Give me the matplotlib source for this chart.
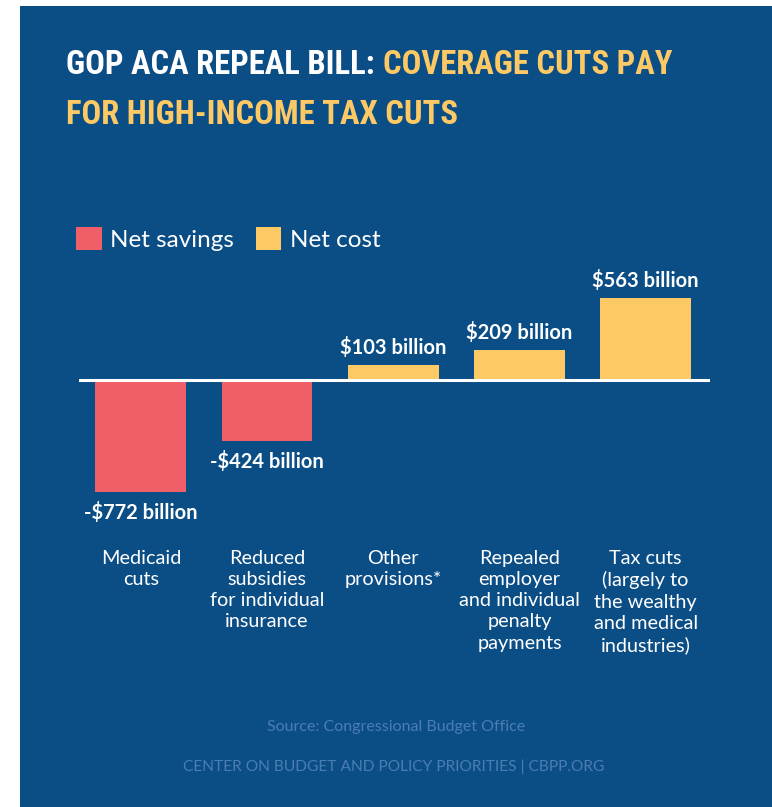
import numpy as np
import matplotlib
matplotlib.use('Agg')
import matplotlib.pyplot as plt
from matplotlib import font_manager
from matplotlib.patches import Rectangle, Patch

# ---------- data ----------
categories = ['Medicaid\ncuts',
              'Reduced\nsubsidies\nfor individual\ninsurance',
              'Other\nprovisions*',
              'Repealed\nemployer\nand individual\npenalty\npayments',
              'Tax cuts\n(largely to\nthe wealthy\nand medical\nindustries)']
values = [-772, -424, 103, 209, 563]
value_labels = ['-$772 billion', '-$424 billion', '$103 billion', '$209 billion', '$563 billion']

BLUE = '#0b4e86'
RED = '#f05f68'
YELLOW = '#fdc964'
FOOT = '#4a7db2'
W, H = 772, 807


def pick(*cands):
    names = {f.name for f in font_manager.fontManager.ttflist}
    for c in cands:
        if c in names:
            return c
    return 'DejaVu Sans'


title_font = pick('Liberation Sans Narrow', 'Roboto Condensed', 'Open Sans Condensed', 'DejaVu Sans')
body_font = pick('Lato', 'Open Sans', 'Roboto', 'DejaVu Sans')


def fx(x):
    return x / W


def fy(y):
    return 1 - y / H


fig = plt.figure(figsize=(W / 100, H / 100), dpi=100, facecolor='white')
fig.patches.append(Rectangle((fx(20), 0), 1 - fx(20), fy(6), transform=fig.transFigure,
                             facecolor=BLUE, edgecolor='none', zorder=-5))

# ---------- title ----------
renderer = fig.canvas.get_renderer()
tkw = dict(family=title_font, weight='bold', stretch='condensed', va='center', ha='left')
t1 = fig.text(fx(66), fy(65), 'GOP ACA REPEAL BILL:', color='white', fontsize=10, **tkw)
t2 = fig.text(fx(66), fy(65), 'COVERAGE CUTS PAY', color=YELLOW, fontsize=10, **tkw)
w10 = t1.get_window_extent(renderer).width + t2.get_window_extent(renderer).width
size = 10 * 596 / w10
t1.set_fontsize(size)
t2.set_fontsize(size)
gap = size * 0.25 * 100 / 72
x2 = t1.get_window_extent(renderer).x1 + gap
t2.set_x(x2 / W)
fig.text(fx(66), fy(115), 'FOR HIGH-INCOME TAX CUTS', color=YELLOW, fontsize=size, **tkw)

# ---------- bars ----------
ax = fig.add_axes([fx(79), 1 - 540 / H, (710 - 79) / W, 290 / H])
ax.set_facecolor('none')
x = np.arange(len(values))
colors = [RED if v < 0 else YELLOW for v in values]
bars = ax.bar(x, values, width=0.72, color=colors, zorder=2)
ax.axhline(0, color='white', lw=2.2, zorder=3)
ax.set_xlim(-0.49, 4.51)
ax.set_ylim(-1103, 896)

for b, v, lab in zip(bars, values, value_labels):
    off = 5 if v > 0 else -7
    ax.annotate(lab, (b.get_x() + b.get_width() / 2, v), xytext=(0, off),
                textcoords='offset points', ha='center',
                va='bottom' if v > 0 else 'top', color='white',
                fontsize=14.5, weight='bold', family=body_font)

ax.set_xticks(x)
ax.set_xticklabels(categories, color='white', fontsize=14.3, family=body_font,
                   weight='normal', linespacing=1.3)
ax.tick_params(axis='x', length=0, pad=7)
ax.set_yticks([])
for s in ax.spines.values():
    s.set_visible(False)

# ---------- legend ----------
handles = [Patch(facecolor=RED, label='Net savings'), Patch(facecolor=YELLOW, label='Net cost')]
leg = fig.legend(handles=handles, loc='upper left', bbox_to_anchor=(fx(76), fy(227)),
                 ncol=2, frameon=False, prop={'family': body_font, 'size': 17.5},
                 handlelength=1.05, handleheight=1.05, handletextpad=0.35,
                 columnspacing=0.9, borderpad=0, borderaxespad=0)
for t in leg.get_texts():
    t.set_color('white')

# ---------- footer ----------
fig.text(fx(396), fy(727), 'Source: Congressional Budget Office', color=FOOT,
         fontsize=11.5, family=body_font, ha='center', va='center')
fig.text(fx(394), fy(767), 'CENTER ON BUDGET AND POLICY PRIORITIES | CBPP.ORG', color=FOOT,
         fontsize=11.2, family=body_font, ha='center', va='center')

fig.savefig('out.png', dpi=100, facecolor='white')
